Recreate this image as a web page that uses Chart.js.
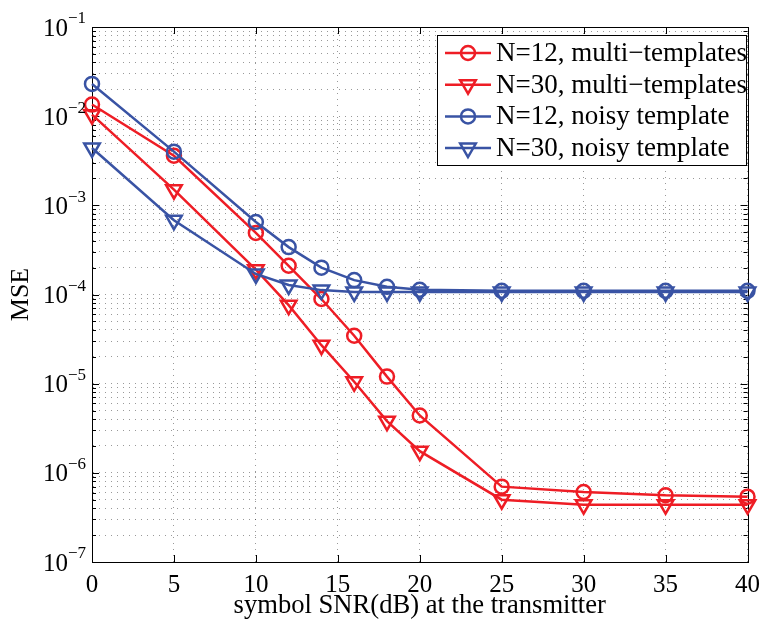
<!DOCTYPE html>
<html>
<head>
<meta charset="utf-8">
<script src="https://cdn.jsdelivr.net/npm/chart.js"></script>
<style>
  html, body { margin: 0; padding: 0; background: #fff; }
  #wrap { width: 768px; height: 623px; }
</style>
</head>
<body>
<div id="wrap"><canvas id="mseChart" width="768" height="623"></canvas></div>
<script>
// symbol SNR (dB) at the transmitter
const snr = [0, 5, 10, 12, 14, 16, 18, 20, 25, 30, 35, 40];

// MSE values
const mseN12Multi = [1.35e-2, 3.6e-3, 4.9e-4, 2.1e-4, 8.9e-5, 3.45e-5, 1.2e-5, 4.4e-6, 7.0e-7, 6.1e-7, 5.6e-7, 5.4e-7];
const mseN30Multi = [1.04e-2, 1.5e-3, 1.9e-4, 7.6e-5, 2.7e-5, 1.05e-5, 3.8e-6, 1.75e-6, 5.0e-7, 4.4e-7, 4.4e-7, 4.4e-7];
const mseN12Noisy = [2.3e-2, 4.0e-3, 6.5e-4, 3.4e-4, 2.0e-4, 1.45e-4, 1.22e-4, 1.13e-4, 1.1e-4, 1.1e-4, 1.1e-4, 1.1e-4];
const mseN30Noisy = [4.4e-3, 6.8e-4, 1.7e-4, 1.28e-4, 1.12e-4, 1.07e-4, 1.07e-4, 1.07e-4, 1.07e-4, 1.07e-4, 1.07e-4, 1.07e-4];

const seriesLabels = ['N=12, multi\u2212templates', 'N=30, multi\u2212templates', 'N=12, noisy template', 'N=30, noisy template'];
const xTicks = [0, 5, 10, 15, 20, 25, 30, 35, 40];
const yDecades = [-7, -6, -5, -4, -3, -2, -1];
const xTitle = 'symbol SNR(dB) at the transmitter';
const yTitle = 'MSE';

const RED = '#ee1d25';
const BLUE = '#3953a4';
const FONT = '"Liberation Serif", "Times New Roman", serif';
const GRID = 'rgba(0,0,0,0.4)';

// all 1..9 x 10^n log ticks for the grid
function logTicks() {
  const out = [];
  yDecades.forEach((d, i) => {
    const base = Math.pow(10, d);
    const top = i === yDecades.length - 1 ? 1 : 9;
    for (let m = 1; m <= top; m++) out.push({ value: m * base, major: m === 1 });
  });
  return out;
}

function drawMarker(ctx, style, x, y, r) {
  ctx.beginPath();
  if (style === 'circle') {
    ctx.arc(x, y, r, 0, Math.PI * 2);
  } else {
    // downward triangle, same geometry as chart.js triangle rotated 180deg
    let rad = Math.PI;
    ctx.moveTo(x + Math.sin(rad) * r, y - Math.cos(rad) * r);
    rad += 2 * Math.PI / 3;
    ctx.lineTo(x + Math.sin(rad) * r, y - Math.cos(rad) * r);
    rad += 2 * Math.PI / 3;
    ctx.lineTo(x + Math.sin(rad) * r, y - Math.cos(rad) * r);
    ctx.closePath();
  }
  ctx.stroke();
}

const boxPlugin = {
  id: 'matlabBox',
  beforeDatasetsDraw(chart) {
    const { ctx, chartArea: a, scales: { x, y } } = chart;
    ctx.save();
    ctx.strokeStyle = '#000';
    ctx.lineWidth = 1;
    ctx.beginPath();
    // inward ticks on x (bottom and top)
    xTicks.forEach(v => {
      const px = Math.round(x.getPixelForValue(v)) + 0.5;
      ctx.moveTo(px, a.bottom); ctx.lineTo(px, a.bottom - 7);
      ctx.moveTo(px, a.top); ctx.lineTo(px, a.top + 7);
    });
    // inward ticks on y (left and right)
    logTicks().forEach(t => {
      const py = Math.round(y.getPixelForValue(t.value)) + 0.5;
      const len = t.major ? 7 : 4;
      ctx.moveTo(a.left, py); ctx.lineTo(a.left + len, py);
      ctx.moveTo(a.right, py); ctx.lineTo(a.right - len, py);
    });
    ctx.stroke();
    ctx.strokeRect(Math.round(a.left) + 0.5, Math.round(a.top) + 0.5,
      Math.round(a.right - a.left), Math.round(a.bottom - a.top));
    ctx.restore();
  },
  afterDraw(chart) {
    const { ctx, chartArea: a, scales: { y } } = chart;
    ctx.save();
    ctx.fillStyle = '#000';
    // y tick labels 10^n with superscript exponent
    yDecades.forEach(d => {
      const py = y.getPixelForValue(Math.pow(10, d));
      ctx.textBaseline = 'middle';
      ctx.textAlign = 'right';
      ctx.font = '25px ' + FONT;
      ctx.fillText('10', a.left - 24, py + 2);
      ctx.textAlign = 'left';
      ctx.font = '17px ' + FONT;
      ctx.fillText('\u2212' + Math.abs(d), a.left - 24, py - 8);
    });

    // legend inside the axes, top right
    const bx = 437, by = 35, bw = 309, bh = 130;
    ctx.fillStyle = '#fff';
    ctx.fillRect(bx, by, bw, bh);
    ctx.strokeStyle = '#000';
    ctx.lineWidth = 1;
    ctx.strokeRect(bx + 0.5, by + 0.5, bw, bh);
    chart.data.datasets.forEach((ds, i) => {
      const ry = 53 + i * 31.7;
      ctx.strokeStyle = ds.borderColor;
      ctx.lineWidth = ds.borderWidth;
      ctx.beginPath();
      ctx.moveTo(445, ry); ctx.lineTo(491, ry);
      ctx.stroke();
      drawMarker(ctx, ds.pointStyle, 468, ry, ds.pointRadius);
      ctx.fillStyle = '#000';
      ctx.font = '27px ' + FONT;
      ctx.textAlign = 'left';
      ctx.textBaseline = 'middle';
      ctx.fillText(ds.label, 496, ry + 1);
    });
    ctx.restore();
  }
};

function makeSet(label, data, color, style, order) {
  return {
    label,
    data: snr.map((s, i) => ({ x: s, y: data[i] })),
    borderColor: color,
    borderWidth: 2.5,
    pointStyle: style,
    pointRotation: style === 'triangle' ? 180 : 0,
    pointRadius: style === 'triangle' ? 9 : 7,
    pointBorderWidth: 2.5,
    pointBackgroundColor: 'rgba(0,0,0,0)',
    pointBorderColor: color,
    tension: 0,
    fill: false,
    clip: false,
    order
  };
}

new Chart(document.getElementById('mseChart'), {
  type: 'line',
  data: {
    datasets: [
      makeSet(seriesLabels[0], mseN12Multi, RED, 'circle', 4),
      makeSet(seriesLabels[1], mseN30Multi, RED, 'triangle', 3),
      makeSet(seriesLabels[2], mseN12Noisy, BLUE, 'circle', 2),
      makeSet(seriesLabels[3], mseN30Noisy, BLUE, 'triangle', 1)
    ]
  },
  options: {
    responsive: false,
    devicePixelRatio: 1,
    animation: false,
    layout: { padding: { top: 27, right: 14, left: 0, bottom: 0 } },
    plugins: { legend: { display: false }, tooltip: { enabled: false } },
    scales: {
      x: {
        type: 'linear',
        min: 0,
        max: 40,
        afterBuildTicks: axis => { axis.ticks = xTicks.map(v => ({ value: v })); },
        afterFit: axis => { axis.height = 61; },
        ticks: { color: '#000', font: { family: FONT, size: 25 }, padding: 8, maxRotation: 0 },
        grid: { color: GRID, drawTicks: false },
        border: { display: true, color: '#000', width: 1, dash: [1, 5] },
        title: { display: true, text: xTitle, color: '#000', font: { family: FONT, size: 26.6 }, padding: { top: 0, bottom: 1 } }
      },
      y: {
        type: 'logarithmic',
        min: 1e-7,
        max: 1e-1,
        afterBuildTicks: axis => { axis.ticks = logTicks(); },
        afterFit: axis => { axis.width = 92; },
        ticks: { display: false },
        grid: { color: GRID, drawTicks: false },
        border: { display: true, color: '#000', width: 1, dash: [1, 5] },
        title: { display: true, text: yTitle, color: '#000', font: { family: FONT, size: 26 }, padding: { top: 6, bottom: 0 } }
      }
    }
  },
  plugins: [boxPlugin]
});
</script>
</body>
</html>
